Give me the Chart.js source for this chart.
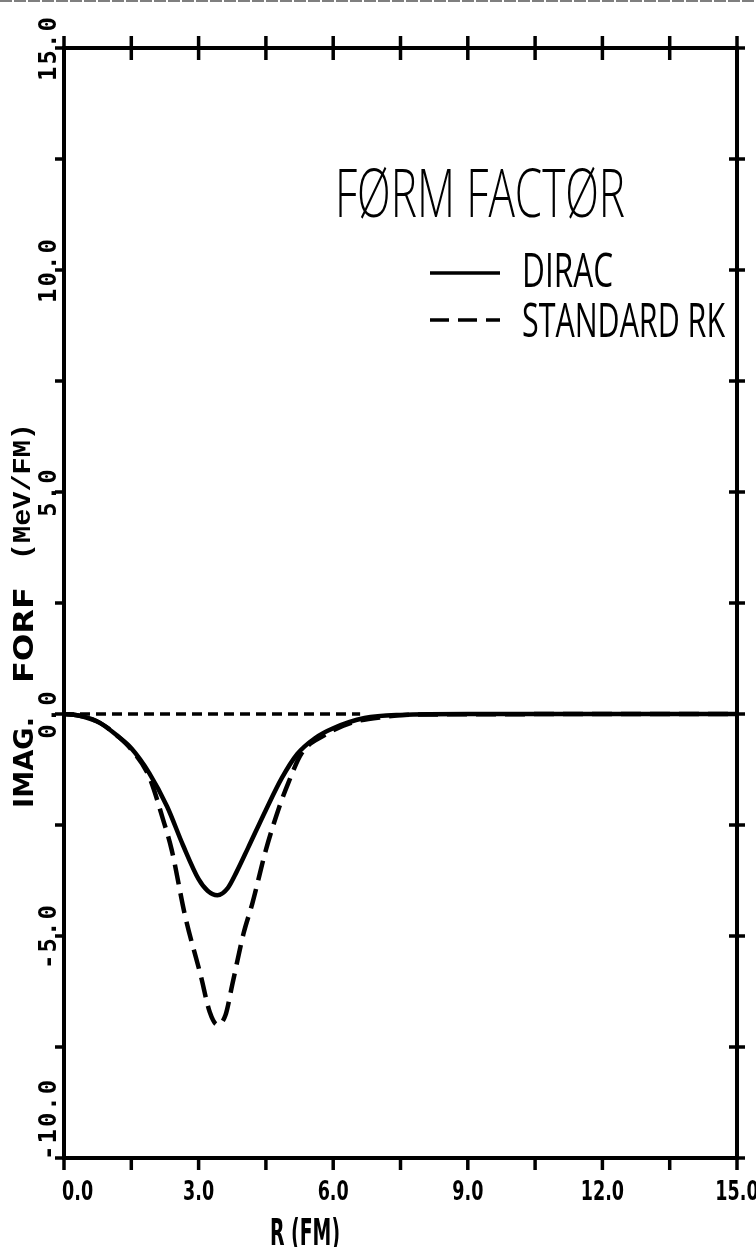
<!DOCTYPE html>
<html>
<head>
<meta charset="utf-8">
<script src="https://cdn.jsdelivr.net/npm/chart.js@4"></script>
<style>
  html, body { margin: 0; padding: 0; background: #fff; }
  #wrap { width: 756px; height: 1247px; position: relative; }
</style>
</head>
<body>
<div id="wrap"><canvas id="chart"></canvas></div>
<script>
// R (FM) sample points and imaginary form factor (MeV/FM)
const rDirac = [0, 0.4, 0.8, 1.2, 1.5, 1.9, 2.3, 2.65, 3.0, 3.2, 3.42, 3.65, 3.85, 4.1, 4.5, 4.85, 5.2, 5.6, 6.0, 6.7, 7.5, 9.0, 12.0, 15.0];
const imDirac = [0, -0.05, -0.2, -0.5, -0.77, -1.33, -2.09, -2.95, -3.72, -3.98, -4.08, -3.92, -3.55, -3.02, -2.16, -1.45, -0.9, -0.54, -0.32, -0.09, -0.02, 0, 0, 0];

const rRK = [0, 0.4, 0.8, 1.2, 1.5, 1.9, 2.2, 2.4, 2.7, 3.05, 3.25, 3.42, 3.6, 3.75, 4.0, 4.2, 4.5, 4.8, 5.0, 5.3, 5.8, 6.4, 7.1, 8.0, 15.0];
const imRK = [0, -0.05, -0.2, -0.5, -0.8, -1.42, -2.35, -3.06, -4.55, -5.9, -6.72, -7.0, -6.78, -6.1, -4.95, -4.26, -3.06, -2.09, -1.55, -0.88, -0.48, -0.2, -0.07, -0.01, 0];

// dashed zero reference line
const rZero = [0, 6.6];
const imZero = [0, 0];

const xTicks = [0, 1.5, 3, 4.5, 6, 7.5, 9, 10.5, 12, 13.5, 15];
const xLabels = [0, 3, 6, 9, 12, 15];
const yTicks = [-10, -7.5, -5, -2.5, 0, 2.5, 5, 7.5, 10, 12.5, 15];
const yLabels = [15, 10, 5, 0, -5, -10];

function pts(xs, ys) {
  return xs.map((x, i) => ({ x: x, y: ys[i] }));
}

function txt(ctx, s, x, y, o) {
  ctx.save();
  ctx.translate(x, y);
  if (o.rot) ctx.rotate(o.rot);
  ctx.font = o.font;
  ctx.textAlign = o.align || 'left';
  ctx.textBaseline = o.base || 'alphabetic';
  if (o.ls) ctx.letterSpacing = o.ls;
  let sx = o.sx || 1;
  if (o.w) sx = o.w / ctx.measureText(s).width;
  ctx.scale(sx, 1);
  ctx.fillStyle = '#000';
  ctx.fillText(s, 0, 0);
  ctx.restore();
}

function line(ctx, x1, y1, x2, y2, w, dash) {
  ctx.save();
  ctx.strokeStyle = '#000';
  ctx.lineWidth = w;
  ctx.setLineDash(dash || []);
  ctx.beginPath();
  ctx.moveTo(x1, y1);
  ctx.lineTo(x2, y2);
  ctx.stroke();
  ctx.restore();
}

const frame = {
  id: 'frame',
  afterDraw(chart) {
    const ctx = chart.ctx;
    const a = chart.chartArea;
    const sx = chart.scales.x, sy = chart.scales.y;

    // scan edge
    line(ctx, 0, 1, 756, 1, 1.2, [12, 2]);

    // box
    ctx.save();
    ctx.strokeStyle = '#000';
    ctx.lineWidth = 4;
    ctx.strokeRect(a.left, a.top, a.right - a.left, a.bottom - a.top);
    ctx.restore();

    xTicks.forEach(v => {
      const p = sx.getPixelForValue(v);
      line(ctx, p, a.bottom, p, a.bottom + 12, 3.5);
      line(ctx, p, a.top - 12, p, a.top + 12, 3.5);
    });
    yTicks.forEach(v => {
      const p = sy.getPixelForValue(v);
      line(ctx, a.left - 9, p, a.left, p, 3.5);
      line(ctx, a.right - 8, p, a.right + 8, p, 3.5);
    });

    // x tick labels
    xLabels.forEach((v, i) => {
      const p = sx.getPixelForValue(v);
      txt(ctx, v.toFixed(1), i === 0 ? p - 2 : p, a.bottom + 42,
        { font: 'bold 27px "DejaVu Sans"', sx: 0.65, align: i === 0 ? 'left' : 'center' });
    });

    // y tick labels, rotated
    yLabels.forEach((v, i) => {
      const p = sy.getPixelForValue(v);
      const last = i === yLabels.length - 1;
      txt(ctx, v.toFixed(1), a.left - 8, last ? p + 2 : p,
        { font: 'bold 24px "DejaVu Sans Mono"', ls: '2px', rot: -Math.PI / 2, align: last ? 'left' : 'center' });
    });

    // axis titles
    txt(ctx, 'R (FM)', 270, 1245, { font: 'bold 38px "DejaVu Sans"', w: 70 });
    txt(ctx, 'IMAG.', 33, 808, { font: 'bold 27px "DejaVu Sans"', w: 91, rot: -Math.PI / 2 });
    txt(ctx, 'FORF', 33, 683, { font: 'bold 27px "DejaVu Sans"', w: 96, rot: -Math.PI / 2 });
    txt(ctx, '(MeV/FM)', 30, 560, { font: 'bold 26px "Liberation Mono"', w: 137, rot: -Math.PI / 2 });

    // title and legend
    txt(ctx, 'FØRM FACTØR', 335, 217, { font: '300 67px "Open Sans"', w: 290 });
    line(ctx, 430, 273, 500, 273, 3.5);
    txt(ctx, 'DIRAC', 522, 287, { font: '48px "Open Sans"', w: 91 });
    line(ctx, 430, 320, 500, 320, 3.5, [19, 9]);
    txt(ctx, 'STANDARD RK', 522, 337, { font: '48px "Open Sans"', w: 203 });
  }
};

new Chart(document.getElementById('chart'), {
  type: 'line',
  data: {
    datasets: [
      {
        label: 'STANDARD RK',
        data: pts(rRK, imRK),
        borderColor: '#000',
        borderWidth: 4.5,
        borderDash: [20, 9],
        cubicInterpolationMode: 'monotone',
        pointRadius: 0,
        fill: false
      },
      {
        label: 'zero',
        data: pts(rZero, imZero),
        borderColor: '#000',
        borderWidth: 3.5,
        borderDash: [10, 6],
        pointRadius: 0,
        fill: false
      },
      {
        label: 'DIRAC',
        data: pts(rDirac, imDirac),
        borderColor: '#000',
        borderWidth: 4.5,
        cubicInterpolationMode: 'monotone',
        pointRadius: 0,
        fill: false
      }
    ]
  },
  options: {
    responsive: true,
    maintainAspectRatio: false,
    animation: false,
    layout: { padding: { left: 64, right: 19, top: 48, bottom: 89 } },
    plugins: { legend: { display: false }, tooltip: { enabled: false } },
    scales: {
      x: {
        type: 'linear', min: 0, max: 15,
        ticks: { display: false },
        grid: { display: false },
        border: { display: false },
        afterFit: s => { s.height = 0; }
      },
      y: {
        type: 'linear', min: -10, max: 15,
        ticks: { display: false },
        grid: { display: false },
        border: { display: false },
        afterFit: s => { s.width = 0; }
      }
    }
  },
  plugins: [frame]
});
</script>
</body>
</html>
